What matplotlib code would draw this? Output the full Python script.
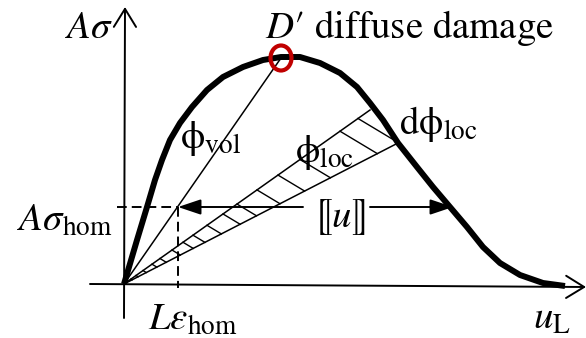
import matplotlib.pyplot as plt
from matplotlib.patches import Ellipse, FancyArrowPatch

plt.rcParams['font.family'] = ['STIXGeneral', 'DejaVu Serif']
plt.rcParams['mathtext.fontset'] = 'stix'

# load-displacement curve (drawing units, origin at the axes crossing)
u = [0, 13, 23, 31, 38, 46, 56, 68, 83, 99, 119, 139, 157, 176, 196,
     216, 233, 246, 259, 274, 293, 309, 326, 343, 359, 376, 396, 419, 441]
s = [0, 44, 77, 104, 124, 144, 161, 177, 194, 207, 217, 224, 227, 227, 221,
     211, 197, 181, 164, 141, 117, 97, 77, 57, 37, 21, 9, 1, -2]

peak = (157, 226)        # D', onset of diffuse damage
hom = (54, 77)           # (L eps_hom, A sigma_hom)
u_jump_end = 329         # jump arrow tip on the softening branch
loc_top = (246, 174)     # end of upper phi_loc ray
loc_bot = (274, 141)     # end of lower phi_loc ray (on the curve)
hatch_u = [234, 216, 176, 154, 133, 113, 99, 83, 69, 59, 48, 36, 28, 19, 12, 7]
hatch_slope = -0.6

fig = plt.figure(figsize=(5.86, 3.38), dpi=100)
ax = fig.add_axes([0, 0, 1, 1])
ax.set_xlim(-124, 462)
ax.set_ylim(-54, 284)
ax.axis('off')

# axes with open arrow heads
axis_style = '->,head_length=0.65,head_width=0.4'
ax.annotate('', xy=(1, 277), xytext=(0, -34),
            arrowprops=dict(arrowstyle=axis_style, lw=1.4, color='black',
                            shrinkA=0, shrinkB=0, mutation_scale=20))
ax.annotate('', xy=(462, -3), xytext=(-34, 0),
            arrowprops=dict(arrowstyle=axis_style, lw=1.4, color='black',
                            shrinkA=0, shrinkB=0, mutation_scale=20))

# main curve
ax.plot(u, s, color='black', lw=4.3, solid_joinstyle='round', solid_capstyle='butt', zorder=4)

# secant rays
ax.plot([0, peak[0]], [0, peak[1]], color='black', lw=1.1)
ax.plot([0, loc_top[0]], [0, loc_top[1]], color='black', lw=1.1)
ax.plot([0, loc_bot[0]], [0, loc_bot[1]], color='black', lw=1.1)

# hatching between the two phi_loc rays
k_top = loc_top[1] / loc_top[0]
k_bot = loc_bot[1] / loc_bot[0]
for a in hatch_u:
    t = a * (k_top - k_bot) / (k_bot - hatch_slope)
    ax.plot([a, a + t], [k_top * a, k_top * a + hatch_slope * t], color='black', lw=1.0)

# homogeneous state, dashed guides
ax.plot([-7, hom[0]], [hom[1], hom[1]], color='black', lw=1.4, dashes=(5, 2.6))
ax.plot([hom[0], hom[0]], [hom[1], -4], color='black', lw=1.4, dashes=(5, 2.6))

# jump [[u]] arrows
jump_x = 215
head = '-|>,head_length=1.4,head_width=0.47'
ax.add_patch(FancyArrowPatch((jump_x - 36, hom[1]), (hom[0], hom[1]), arrowstyle=head,
                             mutation_scale=10, lw=1.4, color='black', shrinkA=0, shrinkB=0))
ax.add_patch(FancyArrowPatch((jump_x + 31, hom[1]), (u_jump_end, hom[1]), arrowstyle=head,
                             mutation_scale=10, lw=1.4, color='black', shrinkA=0, shrinkB=0))

# peak marker
ax.add_patch(Ellipse(peak, 21, 25, fill=False, ec='#C00000', lw=3, zorder=6))

fs = 28
ax.text(-11, 246, r'$A\sigma$', fontsize=fs, ha='right', va='baseline')
ax.text(141, 246, '$D$′ diffuse damage', fontsize=fs, ha='left', va='baseline')
ax.text(86, 145, r'$\mathrm{\phi}_{\mathrm{vol}}$', fontsize=fs, ha='center', va='center')
ax.text(201, 132, r'$\mathrm{\phi}_{\mathrm{loc}}$', fontsize=fs, ha='center', va='center')
ax.text(314, 160, r'$\mathrm{d\phi}_{\mathrm{loc}}$', fontsize=fs, ha='center', va='center')
ax.text(-12, 63, r'$A\sigma_{\mathrm{hom}}$', fontsize=fs, ha='right', va='center')
ax.text(jump_x, 67, r'$⟦u⟧$', fontsize=fs, ha='center', va='center')
ax.text(69, -19, r'$L\varepsilon_{\mathrm{hom}}$', fontsize=fs, ha='center', va='top')
ax.text(428, -18, r'$u_{\mathrm{L}}$', fontsize=fs, ha='center', va='top')

fig.savefig('out.png', dpi=100)
